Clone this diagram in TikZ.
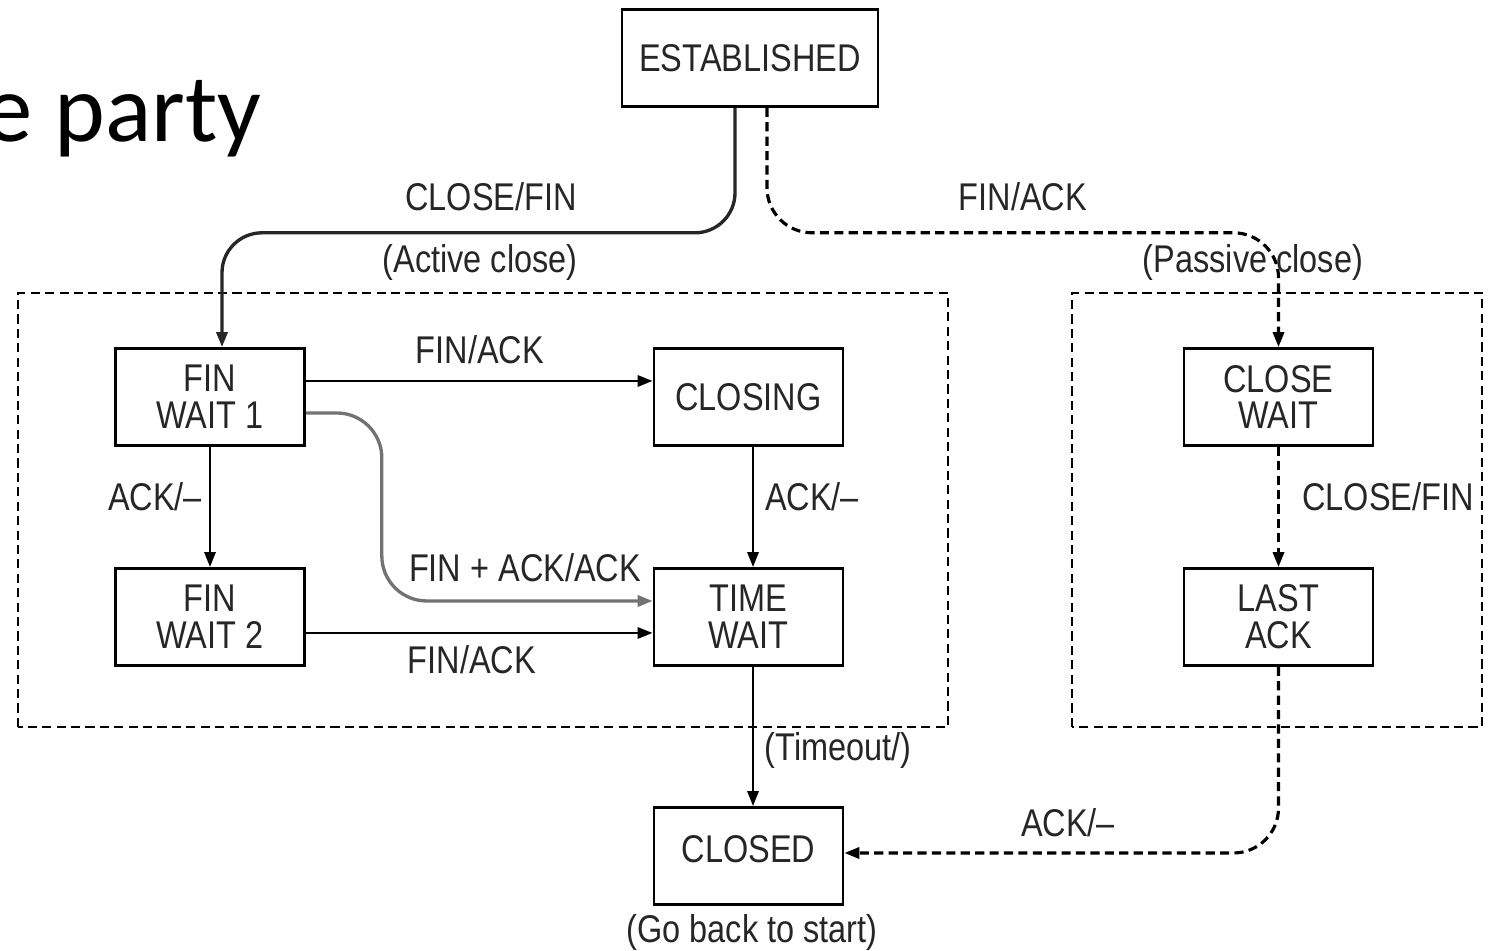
\documentclass[tikz,border=0pt]{standalone}
\usepackage{fontspec}
\newfontfamily\diafont{Liberation Sans}[FakeStretch=0.84]
\newfontfamily\slidefont{Carlito}
\usepackage{tikz}
\usetikzlibrary{arrows.meta, positioning}

\begin{document}
\begin{tikzpicture}[>={Triangle[length=1.5mm,width=1.1mm]},
  font=\diafont\fontsize{11}{10.5}\selectfont, text=black!85,
  state/.style={draw, line width=0.75pt, minimum width=1.89cm, minimum height=0.97cm, align=center, inner sep=0pt},
  trans/.style={->, line width=0.8pt},
  passive/.style={trans, line width=0.9pt, dash pattern=on 2.6pt off 1.5pt},
  group/.style={line width=0.8pt, dash pattern=on 2.6pt off 1.5pt}]
  \useasboundingbox (0,0) rectangle (14.96,9.51);
  \clip (0,0) rectangle (14.96,9.51);

  % Slide title remnant
  \node[font=\slidefont\fontsize{27.5}{30}\selectfont, text=black, anchor=base east, inner sep=0pt] (title) at (2.62,8.09) {e party};

  % States
  \node[state, minimum width=2.56cm] (est) at (7.50,8.93) {ESTABLISHED};
  \node[state] (fw1) at (2.10,5.54) {FIN\\WAIT 1};
  \node[state] (closing) at (7.485,5.54) {CLOSING};
  \node[state] (fw2) at (2.10,3.34) {FIN\\WAIT 2};
  \node[state] (tw) at (7.485,3.34) {TIME\\WAIT};
  \node[state] (cw) at (12.785,5.54) {CLOSE\\WAIT};
  \node[state] (la) at (12.785,3.34) {LAST\\ACK};
  \node[state, text depth=0.14cm] (closed) at (7.485,0.95) {CLOSED};

  % Active / passive groups
  \draw[group] (0.18,2.24) rectangle (9.48,6.58);
  \draw[group] (10.72,2.24) rectangle (14.82,6.58);

  % Transitions
  \draw[trans, line width=0.95pt, black!85, rounded corners=0.4cm] ([xshift=-0.15cm]est.south) -- ++(0,-1.25) -| ([xshift=0.12cm]fw1.north);
  \draw[passive, rounded corners=0.45cm] ([xshift=0.17cm]est.south) -- ++(0,-1.25) -| (cw.north);
  \draw[trans] ([yshift=0.16cm]fw1.east) -- ([yshift=0.16cm]closing.west);
  \draw[trans, black!55, line width=0.95pt, rounded corners=0.45cm] ([yshift=-0.16cm]fw1.east) -- ++(0.76,0) -- ++(0,-1.88) -- ([yshift=0.16cm]tw.west);
  \draw[trans] ([yshift=-0.16cm]fw2.east) -- ([yshift=-0.16cm]tw.west);
  \draw[trans] (fw1.south) -- (fw2.north);
  \draw[trans] ([xshift=0.045cm]closing.south) -- ([xshift=0.045cm]tw.north);
  \draw[trans] ([xshift=0.045cm]tw.south) -- ([xshift=0.045cm]closed.north);
  \draw[passive] (cw.south) -- (la.north);
  \draw[passive, rounded corners=0.45cm] (la.south) |- ([yshift=0.03cm]closed.east);

  % Labels
  \node (lclosefin) at (4.91,7.54) {CLOSE/FIN};
  \node (lactive) at (4.80,6.88) {(Active close)};
  \node (lfinack) at (10.23,7.54) {FIN/ACK};
  \node (lpassive) at (12.53,6.88) {(Passive close)};
  \node (lfinacka) at (4.80,6.01) {FIN/ACK};
  \node (lackfw) at (1.55,4.54) {ACK/\textendash};
  \node (lackcl) at (8.12,4.54) {ACK/\textendash};
  \node (lfinackack) at (5.25,3.83) {FIN + ACK/ACK};
  \node (lfinackb) at (4.72,2.91) {FIN/ACK};
  \node (lclosefinb) at (13.88,4.54) {CLOSE/FIN};
  \node (ltimeout) at (8.38,2.00) {(Timeout/)};
  \node (lacklast) at (10.68,1.28) {ACK/\textendash};
  \node (lstart) at (7.52,0.18) {(Go back to start)};
\end{tikzpicture}
\end{document}
